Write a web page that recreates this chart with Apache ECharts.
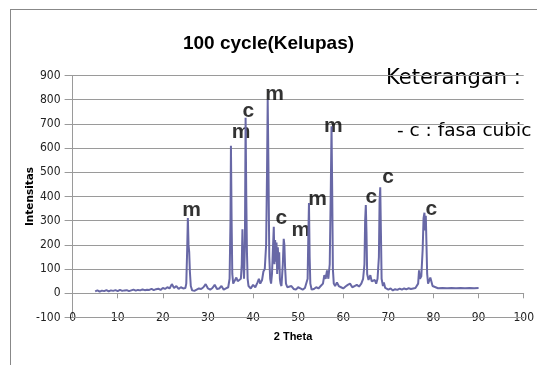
<!DOCTYPE html>
<html>
<head>
<meta charset="utf-8">
<script src="https://cdn.jsdelivr.net/npm/echarts@6/dist/echarts.min.js"></script>
<style>
html,body{margin:0;padding:0;background:#fff}
#wrap{position:relative;width:537px;height:365px;overflow:hidden}
#c{width:537px;height:365px}
#frame{position:absolute;left:10px;top:9px;width:600px;height:400px;border:1px solid #888;box-sizing:border-box;pointer-events:none;background:transparent}
</style>
</head>
<body>
<div id="wrap"><div id="c"></div><div id="frame"></div></div>
<script>
// 2 Theta values
var theta = [5,5.5,6,6.5,7,7.5,8,8.5,9,9.5,10,10.5,11,11.5,12,12.5,13,13.5,14,14.5,15,15.5,16,16.5,17,17.5,18,18.5,19,19.5,20,
20.5,21,21.5,22,22.5,23,23.5,24,24.5,25,25.2,25.4,25.55,25.7,25.85,26,26.2,26.5,27,27.5,28,28.5,29,29.5,30,30.5,31,31.5,32,32.5,33,33.5,34,34.5,34.8,35.0,35.1,35.25,35.4,35.6,36,36.3,36.6,37,37.3,37.5,37.65,37.8,38,38.2,38.35,38.5,38.65,38.8,39,39.5,40,40.5,41,41.3,41.6,42,42.3,42.6,42.9,43.1,43.25,43.4,43.6,43.8,44,44.2,44.4,44.6,44.75,44.9,45.05,45.2,45.35,45.5,45.65,45.8,45.95,46.1,46.3,46.6,46.8,46.95,47.1,47.3,47.6,48,48.5,49,49.5,50,50.5,51,51.5,51.9,52.1,52.25,52.4,52.55,52.7,53,53.5,54,54.5,55,55.5,55.8,56.1,56.4,56.7,57.0,57.25,57.4,57.55,57.7,57.9,58.2,58.6,59,59.5,60,60.5,61,61.5,62,62.5,63,63.5,64,64.4,64.7,64.85,65.0,65.15,65.3,65.6,66,66.3,66.7,67,67.3,67.6,67.9,68.05,68.2,68.35,68.5,68.8,69,69.3,70,70.5,71,71.5,72,72.5,73,73.5,74,74.5,75,75.5,76,76.3,76.6,76.8,77.0,77.3,77.6,77.8,78.0,78.15,78.3,78.45,78.6,78.8,79,79.3,79.6,79.8,80,81,82,83,84,85,86,87,88,89,90];
// Intensity values
var intensitas = [8,12,7,11,9,13,8,12,10,13,9,14,10,12,13,9,12,15,11,14,12,16,13,15,14,18,13,17,19,14,22,
18,25,20,38,22,30,18,25,20,22,40,180,311,200,170,90,30,12,10,15,20,18,25,38,20,15,22,35,18,20,30,15,20,25,60,300,610,300,80,40,35,65,50,45,60,120,265,150,60,200,725,400,170,60,30,20,35,25,45,60,40,55,90,100,200,500,800,550,150,60,40,80,180,275,120,220,130,210,80,190,100,170,60,40,30,120,225,200,110,40,25,20,30,18,15,25,20,15,22,20,60,230,373,150,40,15,18,25,20,30,40,75,60,95,60,120,450,690,420,100,40,30,45,30,25,20,28,35,40,25,30,35,28,40,60,120,300,365,250,80,55,75,50,45,55,40,60,150,380,438,250,60,30,45,22,15,20,12,17,14,19,15,20,16,21,18,20,22,25,40,95,60,70,180,310,333,260,320,200,80,40,35,65,70,30,22,21,22,21,22,21,22,21,22,21,22];
// Phase annotations
var annText = ['m','m','c','m','c','m','m','m','c','c','c'];
var annX = [26.4,37.35,38.97,44.75,46.3,50.6,54.3,57.82,66.25,69.96,79.5];
var annY = [345,664,751,823,309,262,388,691,396,478,346];
// Axis ticks
var xTicks = {min:0, max:100, interval:10};
var yTicks = {min:-100, max:900, interval:100};

var lineData = theta.map(function(t,i){return [t, intensitas[i]];});
var annData = annX.map(function(x,i){return {value:[x, annY[i]], name:annText[i]};});
var bottomGrid = [[xTicks.min, yTicks.min], [xTicks.max, yTicks.min]];

var chart = echarts.init(document.getElementById('c'), null, {renderer:'canvas'});
var gridColor = '#9a9a9a';
chart.setOption({
  animation:false,
  title:{
    text:'100 cycle(Kelupas)', left:'center', top:29,
    textStyle:{fontFamily:'Liberation Sans', fontWeight:'bold', fontSize:19, color:'#000'}
  },
  grid:{left:72.6, top:75.5, width:459, height:242},
  xAxis:[{
    type:'value', position:'bottom', min:xTicks.min, max:xTicks.max, interval:xTicks.interval,
    axisLine:{show:true, onZero:true, lineStyle:{color:gridColor, width:1}},
    axisTick:{show:true, length:5, lineStyle:{color:gridColor}},
    axisLabel:{show:false}, splitLine:{show:false}
  },{
    type:'value', min:xTicks.min, max:xTicks.max, interval:xTicks.interval, position:'bottom',
    axisLine:{show:true, onZero:false, lineStyle:{color:gridColor, width:1}}, axisTick:{show:false}, splitLine:{show:false},
    axisLabel:{show:true, margin:-6, verticalAlign:'top', color:'#222', fontFamily:'DejaVu Sans Condensed', fontSize:12}
  }],
  yAxis:{
    type:'value', min:yTicks.min, max:yTicks.max, interval:yTicks.interval,
    axisLine:{show:true, lineStyle:{color:gridColor}},
    axisTick:{show:true, length:8, lineStyle:{color:gridColor}},
    axisLabel:{margin:12, color:'#222', fontFamily:'DejaVu Sans Condensed', fontSize:12},
    splitLine:{show:true, showMinLine:true, lineStyle:{color:gridColor, width:1}},
    name:'Intensitas', nameLocation:'middle', nameGap:37, nameRotate:90, nameMoveOverlap:false,
    nameTextStyle:{fontFamily:'DejaVu Sans', fontWeight:'bold', fontSize:10.5, color:'#000'}
  },
  series:[{
    type:'line', xAxisIndex:0, data:bottomGrid, showSymbol:false, symbol:'none', clip:false, z:1,
    lineStyle:{color:gridColor, width:1}, silent:true
  },{
    type:'line', xAxisIndex:0, data:lineData, showSymbol:false, symbol:'none',
    lineStyle:{color:'#6868a6', width:2}
  },{
    type:'scatter', xAxisIndex:0, data:annData, symbolSize:0,
    label:{show:true, position:'inside', formatter:'{b}', fontFamily:'Liberation Sans', fontWeight:'bold', fontSize:21, color:'#000'}
  }],
  graphic:[
    {type:'text', x:293, y:337, style:{text:'2 Theta', align:'center', verticalAlign:'middle', font:'bold 11px "Liberation Sans"', fill:'#000'}},
    {type:'text', left:386, top:68, style:{text:'Keterangan :', font:'21px "DejaVu Sans"', fill:'#000'}},
    {type:'text', left:397, top:122, style:{text:'- c : fasa cubic', font:'18.5px "DejaVu Sans"', fill:'#000'}}
  ]
});
</script>
</body>
</html>
